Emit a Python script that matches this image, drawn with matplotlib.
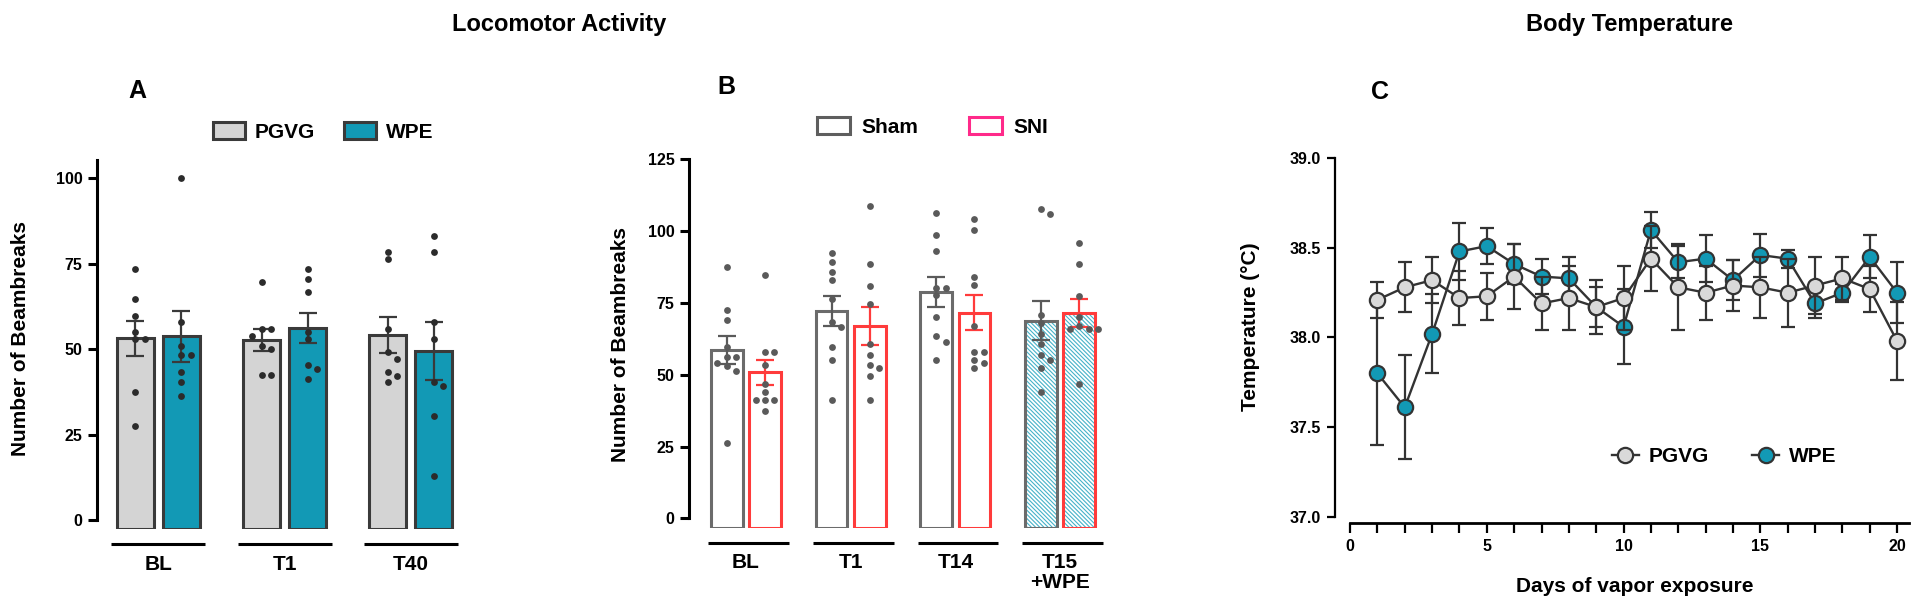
import numpy as np
import matplotlib
matplotlib.use("Agg")
import matplotlib.pyplot as plt
from matplotlib.patches import Patch
from matplotlib.lines import Line2D
from matplotlib.transforms import blended_transform_factory

plt.rcParams['font.family'] = ['Liberation Sans', 'DejaVu Sans']
plt.rcParams['font.weight'] = 'bold'
plt.rcParams['hatch.linewidth'] = 0.8

# ---------------- data ----------------
# Panel A: Locomotor activity, PGVG vs WPE
A_groups = ['BL', 'T1', 'T40']
A_pgvg_mean = [53.2, 52.7, 54.2]
A_pgvg_sem = [5.15, 3.1, 5.35]
A_wpe_mean = [53.8, 56.3, 49.5]
A_wpe_sem = [7.5, 4.4, 8.35]
A_pgvg_pts = [
    [73.4, 64.6, 59.8, 55.0, 53.0, 53.0, 37.5, 27.7],
    [69.6, 55.9, 55.9, 54.0, 51.1, 50.1, 42.5, 42.5],
    [78.4, 76.4, 55.9, 49.1, 47.2, 43.3, 42.3, 40.4],
]
A_wpe_pts = [
    [100.0, 57.9, 51.1, 48.3, 48.3, 43.4, 40.4, 36.4],
    [73.4, 70.6, 66.7, 55.0, 53.0, 45.4, 44.3, 41.3],
    [83.2, 78.4, 57.9, 53.0, 40.4, 39.4, 30.6, 13.0],
]

# Panel B: Sham vs SNI
B_groups = ['BL', 'T1', 'T14', 'T15\n+WPE']
B_hatched = [False, False, False, True]
B_sham_mean = [58.6, 72.3, 78.7, 68.8]
B_sham_sem = [4.95, 5.25, 5.25, 6.8]
B_sni_mean = [50.8, 67.1, 71.6, 71.6]
B_sni_sem = [4.4, 6.6, 6.15, 4.9]
B_sham_pts = [
    [87.5, 72.6, 68.9, 59.7, 56.3, 56.3, 54.0, 53.0, 51.4, 26.1],
    [92.3, 89.4, 85.7, 83.0, 76.5, 68.5, 66.7, 59.8, 55.1, 41.2],
    [106.2, 98.6, 93.2, 80.3, 80.3, 77.7, 70.0, 63.5, 61.5, 55.1],
    [107.8, 105.9, 70.8, 68.1, 64.2, 60.7, 56.9, 55.1, 52.4, 44.0],
]
B_sni_pts = [
    [84.7, 57.8, 57.8, 53.4, 46.8, 44.0, 41.2, 41.2, 41.2, 37.4],
    [108.8, 88.4, 81.0, 74.5, 60.7, 56.9, 53.4, 52.4, 49.5, 41.2],
    [104.2, 100.5, 83.9, 81.1, 67.0, 57.8, 57.8, 55.1, 54.2, 52.3],
    [95.9, 88.4, 77.5, 70.0, 67.0, 66.0, 66.0, 66.0, 46.8],
]

# Panel C: body temperature
C_days = list(range(1, 21))
C_pgvg = [38.21, 38.28, 38.32, 38.22, 38.23, 38.34, 38.19, 38.22, 38.17, 38.22,
          38.44, 38.28, 38.25, 38.29, 38.28, 38.25, 38.29, 38.33, 38.27, 37.98]
C_pgvg_sem = [0.10, 0.14, 0.13, 0.15, 0.13, 0.18, 0.15, 0.18, 0.15, 0.18,
              0.18, 0.24, 0.15, 0.14, 0.17, 0.19, 0.16, 0.12, 0.13, 0.22]
C_wpe = [37.80, 37.61, 38.02, 38.48, 38.51, 38.41, 38.34, 38.33, 38.17, 38.06,
         38.60, 38.42, 38.44, 38.32, 38.46, 38.44, 38.19, 38.25, 38.45, 38.25]
C_wpe_sem = [0.40, 0.29, 0.22, 0.16, 0.10, 0.11, 0.10, 0.12, 0.11, 0.21,
             0.10, 0.09, 0.13, 0.11, 0.12, 0.05, 0.08, 0.05, 0.12, 0.17]

# ---------------- layout helpers ----------------
W, H = 1920, 612
fig = plt.figure(figsize=(W / 100, H / 100), dpi=100)


def rect(l, t, r, b):
    return [l / W, 1 - b / H, (r - l) / W, (b - t) / H]


def fx(px):
    return px / W


def fy(py):
    return 1 - py / H


def swarm(vals, center, ythr, step):
    xs, placed = [], []
    for v in vals:
        for k in [0, 1, -1, 2, -2, 3, -3]:
            x = center + k * step
            if all(not (abs(pv - v) < ythr and abs(px - x) < step * 0.5) for px, pv in placed):
                break
        placed.append((x, v))
        xs.append(x)
    return xs


PG_FILL = '#d4d4d4'
WPE_FILL = '#1299b5'
DARK = '#3a3a3a'
TICK_FS = 11.5

# ---------------- Panel A ----------------
axA = fig.add_axes(rect(97, 159.5, 470, 529.2))
A_lo, A_hi = -2.6, 105.5
axA.set_xlim(-0.488, 2.472)
axA.set_ylim(A_lo, A_hi)
wA, offA = 0.30, 0.1825
for mean, sem, pts, col, off in [(A_pgvg_mean, A_pgvg_sem, A_pgvg_pts, PG_FILL, -offA),
                                 (A_wpe_mean, A_wpe_sem, A_wpe_pts, WPE_FILL, offA)]:
    x = np.arange(len(A_groups)) + off
    axA.bar(x, np.array(mean) - A_lo, bottom=A_lo, width=wA, color=col,
            edgecolor=DARK, linewidth=2.2, zorder=2)
    axA.errorbar(x, mean, yerr=sem, fmt='none', ecolor=DARK, elinewidth=1.6,
                 capsize=6.5, capthick=1.6, zorder=4)
    for xi, p in zip(x, pts):
        axA.scatter(swarm(p, xi, 2.0, 0.072), p, s=24, color='#2b2b2b',
                    linewidths=0, zorder=5)
for s in ['top', 'right', 'bottom']:
    axA.spines[s].set_visible(False)
axA.spines['left'].set_linewidth(2.2)
axA.spines['left'].set_bounds(0, 105.3)
axA.set_yticks([0, 25, 50, 75, 100])
axA.tick_params(axis='y', length=6.5, width=2.2, labelsize=TICK_FS, pad=4)
axA.set_xticks([])
trA = blended_transform_factory(axA.transData, fig.transFigure)
for i, g in enumerate(A_groups):
    axA.plot([i - 0.373, i + 0.373], [fy(544)] * 2, transform=trA, color='black',
             lw=2.2, clip_on=False, solid_capstyle='butt')
    axA.text(i, fy(555), g, transform=trA, ha='center', va='top', fontsize=15)
fig.text(fx(20.5), fy(338), 'Number of Beambreaks', rotation=90, ha='center',
         va='center', fontsize=15)
fig.legend(handles=[Patch(facecolor=PG_FILL, edgecolor=DARK, lw=2.2, label='PGVG'),
                    Patch(facecolor=WPE_FILL, edgecolor=DARK, lw=2.2, label='WPE')],
           loc='center', bbox_to_anchor=(fx(323.5), fy(132)), ncol=2, frameon=False,
           fontsize=15, handlelength=1.5, handleheight=0.85, handletextpad=0.5,
           columnspacing=1.4, borderpad=0, borderaxespad=0)

# ---------------- Panel B ----------------
axB = fig.add_axes(rect(689, 159.3, 1110, 527.8))
B_lo = -3.3
axB.set_xlim(-0.544, 3.477)
axB.set_ylim(B_lo, 125)
wB, offB = 0.303, 0.182
SHAM_EDGE = '#6b6b6b'
SNI_EDGE = '#ff3b3b'
HATCH_COL = '#45b2c9'
for mean, sem, pts, edge, ecol, off in [(B_sham_mean, B_sham_sem, B_sham_pts, SHAM_EDGE, '#5a5a5a', -offB),
                                        (B_sni_mean, B_sni_sem, B_sni_pts, SNI_EDGE, SNI_EDGE, offB)]:
    x = np.arange(len(B_groups)) + off
    for xi, m, h in zip(x, mean, B_hatched):
        if h:
            axB.bar(xi, m - B_lo, bottom=B_lo, width=wB, color='white', edgecolor=HATCH_COL,
                    hatch='\\' * 8, linewidth=0, zorder=1.5)
            axB.bar(xi, m - B_lo, bottom=B_lo, width=wB, facecolor='none', edgecolor=edge,
                    linewidth=2.2, zorder=2)
        else:
            axB.bar(xi, m - B_lo, bottom=B_lo, width=wB, color='white', edgecolor=edge,
                    linewidth=2.2, zorder=2)
    axB.errorbar(x, mean, yerr=sem, fmt='none', ecolor=ecol, elinewidth=1.6,
                 capsize=6.5, capthick=1.6, zorder=4)
    for xi, p in zip(x, pts):
        axB.scatter(swarm(p, xi, 2.3, 0.09), p, s=24, color='#5a5a5a',
                    linewidths=0, zorder=5)
for s in ['top', 'right', 'bottom']:
    axB.spines[s].set_visible(False)
axB.spines['left'].set_linewidth(2.2)
axB.spines['left'].set_bounds(0, 125)
axB.set_yticks([0, 25, 50, 75, 100, 125])
axB.tick_params(axis='y', length=6.5, width=2.2, labelsize=TICK_FS, pad=4)
axB.set_xticks([])
trB = blended_transform_factory(axB.transData, fig.transFigure)
for i, g in enumerate(B_groups):
    axB.plot([i - 0.36, i + 0.41], [fy(543.3)] * 2, transform=trB, color='black',
             lw=2.2, clip_on=False, solid_capstyle='butt')
    axB.text(i, fy(553), g, transform=trB, ha='center', va='top', fontsize=15,
             linespacing=1.1)
fig.text(fx(620), fy(344.5), 'Number of Beambreaks', rotation=90, ha='center',
         va='center', fontsize=15)
fig.legend(handles=[Patch(facecolor='white', edgecolor='#5e5e5e', lw=2.2, label='Sham'),
                    Patch(facecolor='white', edgecolor='#ff2a8a', lw=2.2, label='SNI')],
           loc='center', bbox_to_anchor=(fx(932.5), fy(127)), ncol=2, frameon=False,
           fontsize=15, handlelength=1.6, handleheight=0.85, handletextpad=0.55,
           columnspacing=2.4, borderpad=0, borderaxespad=0)

# ---------------- Panel C ----------------
axC = fig.add_axes(rect(1335, 158.3, 1913.5, 523.3))
axC.set_xlim(-0.55, 20.6)
axC.set_ylim(36.963, 39.0)
common = dict(color='#333333', mec='#333333', ms=11, mew=1.6, lw=1.7,
              elinewidth=1.6, capsize=4.7, capthick=1.6, clip_on=False)
axC.errorbar(C_days, C_wpe, yerr=C_wpe_sem, fmt='-o', mfc=WPE_FILL, zorder=3, **common)
axC.errorbar(C_days, C_pgvg, yerr=C_pgvg_sem, fmt='-o', mfc='#d9d9d9', zorder=4, **common)
for s in ['top', 'right']:
    axC.spines[s].set_visible(False)
axC.spines['left'].set_linewidth(1.6)
axC.spines['left'].set_bounds(37, 39)
axC.spines['bottom'].set_linewidth(2.0)
axC.spines['bottom'].set_bounds(0, 20.45)
axC.set_yticks([37.0, 37.5, 38.0, 38.5, 39.0])
axC.set_yticklabels(['37.0', '37.5', '38.0', '38.5', '39.0'])
axC.set_xticks([0, 5, 10, 15, 20])
axC.set_xticks(np.arange(0, 21), minor=True)
axC.tick_params(axis='y', length=6, width=1.6, labelsize=TICK_FS, pad=4)
axC.tick_params(axis='x', which='both', length=7, width=1.6, labelsize=TICK_FS, pad=4)
fig.text(fx(1635), fy(586.7), 'Days of vapor exposure', ha='center', va='center', fontsize=15)
fig.text(fx(1251), fy(327), 'Temperature (°C)', rotation=90, ha='center', va='center', fontsize=15)
fig.legend(handles=[Line2D([0], [0], color='#333333', lw=1.7, marker='o', ms=11, mfc='#d9d9d9',
                           mec='#333333', mew=1.6, label='PGVG'),
                    Line2D([0], [0], color='#333333', lw=1.7, marker='o', ms=11, mfc=WPE_FILL,
                           mec='#333333', mew=1.6, label='WPE')],
           loc='center', bbox_to_anchor=(fx(1724), fy(456.7)), ncol=2, frameon=False,
           fontsize=15, handlelength=1.3, handletextpad=0.45, columnspacing=2.1,
           borderpad=0, borderaxespad=0, numpoints=1)

# ---------------- titles & panel letters ----------------
fig.text(fx(559), fy(24.5), 'Locomotor Activity', ha='center', va='center', fontsize=17)
fig.text(fx(1630), fy(24.5), 'Body Temperature', ha='center', va='center', fontsize=17)
fig.text(fx(137), fy(91), 'A', ha='center', va='center', fontsize=18)
fig.text(fx(726), fy(87), 'B', ha='center', va='center', fontsize=18)
fig.text(fx(1380), fy(92), 'C', ha='center', va='center', fontsize=18)

fig.savefig('out.png', dpi=100)
